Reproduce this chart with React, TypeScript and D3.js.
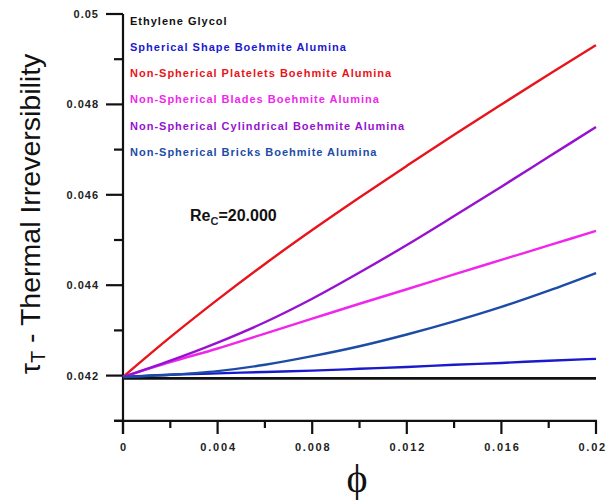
import React, { useEffect, useRef } from 'react';
import * as d3 from 'd3';

const phi = [0, 0.002, 0.004, 0.006, 0.008, 0.01, 0.012, 0.014, 0.016, 0.018, 0.02];

const ethyleneGlycol = [0.04194, 0.04194, 0.04194, 0.04194, 0.04194, 0.04194, 0.04194, 0.04194, 0.04194, 0.04194, 0.04194];
const spherical = [0.04197, 0.04202, 0.04205, 0.04208, 0.04211, 0.04215, 0.04219, 0.04224, 0.04228, 0.04233, 0.04237];
const platelets = [0.04197, 0.04285, 0.04368, 0.04447, 0.04522, 0.04594, 0.04664, 0.04733, 0.048, 0.04866, 0.04931];
const blades = [0.04197, 0.0423, 0.0426, 0.04293, 0.04326, 0.04359, 0.04391, 0.04424, 0.04456, 0.04488, 0.0452];
const cylindrical = [0.04197, 0.04233, 0.04273, 0.04318, 0.04370, 0.04428, 0.04489, 0.04553, 0.04618, 0.04684, 0.0475];
const bricks = [0.04197, 0.04202, 0.0421, 0.04224, 0.04243, 0.04265, 0.04291, 0.0432, 0.04352, 0.04388, 0.04427];

const seriesNames = [
  'Ethylene Glycol',
  'Spherical Shape Boehmite Alumina',
  'Non-Spherical Platelets Boehmite Alumina',
  'Non-Spherical Blades Boehmite Alumina',
  'Non-Spherical Cylindrical Boehmite Alumina',
  'Non-Spherical Bricks Boehmite Alumina',
];
const seriesValues = [ethyleneGlycol, spherical, platelets, blades, cylindrical, bricks];
const seriesColors = ['#111111', '#1a1acc', '#e8141c', '#f026ec', '#9612d0', '#1c4ca6'];

const yMajorTicks = [0.042, 0.044, 0.046, 0.048, 0.05];
const yMajorLabels = ['0.042', '0.044', '0.046', '0.048', '0.05'];
const yMinorTicks = [0.041, 0.043, 0.045, 0.047, 0.049];
const xMajorTicks = [0, 0.004, 0.008, 0.012, 0.016, 0.02];
const xMajorLabels = ['0', '0.004', '0.008', '0.012', '0.016', '0.02'];
const xMinorTicks = [0.002, 0.006, 0.01, 0.014, 0.018];

export default function App() {
  const svgRef = useRef<SVGSVGElement>(null);

  useEffect(() => {
    document.body.style.margin = '0';
    if (!svgRef.current) return;
    const svg = d3.select(svgRef.current);
    svg.selectAll('*').remove();

    const x = d3.scaleLinear().domain([0, 0.02]).range([123, 596]);
    const y = d3.scaleLinear().domain([0.041, 0.05]).range([420.8, 14]);
    const g = svg.append('g');
    const font = 'Liberation Sans, Arial, sans-serif';

    // axes
    g.append('line').attr('x1', 123).attr('x2', 123).attr('y1', y(0.05)).attr('y2', 434)
      .attr('stroke', '#111').attr('stroke-width', 2.2);
    g.append('line').attr('x1', 114).attr('x2', 597).attr('y1', y(0.041)).attr('y2', y(0.041))
      .attr('stroke', '#111').attr('stroke-width', 2.2);

    yMajorTicks.forEach((t, i) => {
      g.append('line').attr('x1', 106).attr('x2', 123).attr('y1', y(t)).attr('y2', y(t))
        .attr('stroke', '#111').attr('stroke-width', 2.2);
      g.append('text').attr('x', 99).attr('y', y(t) + 4).attr('text-anchor', 'end')
        .attr('font-family', font).attr('font-weight', 'bold').attr('font-size', 11)
        .attr('letter-spacing', 1).attr('fill', '#222').text(yMajorLabels[i]);
    });
    yMinorTicks.forEach(t => {
      g.append('line').attr('x1', 114).attr('x2', 123).attr('y1', y(t)).attr('y2', y(t))
        .attr('stroke', '#111').attr('stroke-width', 2.2);
    });
    xMajorTicks.forEach((t, i) => {
      g.append('line').attr('x1', x(t)).attr('x2', x(t)).attr('y1', y(0.041)).attr('y2', 434)
        .attr('stroke', '#111').attr('stroke-width', 2.2);
      const last = i === xMajorTicks.length - 1;
      g.append('text').attr('x', last ? 607 : x(t) + 1).attr('y', 451)
        .attr('text-anchor', last ? 'end' : 'middle')
        .attr('font-family', font).attr('font-weight', 'bold').attr('font-size', 11)
        .attr('letter-spacing', 1.8).attr('fill', '#222').text(xMajorLabels[i]);
    });
    xMinorTicks.forEach(t => {
      g.append('line').attr('x1', x(t)).attr('x2', x(t)).attr('y1', y(0.041)).attr('y2', 428)
        .attr('stroke', '#111').attr('stroke-width', 2.2);
    });

    // curves
    const line = d3.line<number>().x((_, i) => x(phi[i])).y(d => y(d)).curve(d3.curveMonotoneX);
    seriesValues.forEach((vals, i) => {
      g.append('path').datum(vals)
        .attr('fill', 'none')
        .attr('stroke', seriesColors[i])
        .attr('stroke-width', i === 0 ? 2.8 : 2.4)
        .attr('d', line);
    });

    // legend
    seriesNames.forEach((name, i) => {
      g.append('text').attr('x', 130).attr('y', 24.5 + i * 26.3)
        .attr('font-family', font).attr('font-weight', 'bold').attr('font-size', 11)
        .attr('letter-spacing', 1).attr('fill', seriesColors[i]).text(name);
    });

    // Re annotation
    const re = g.append('text').attr('x', 190).attr('y', 221)
      .attr('font-family', font).attr('font-weight', 'bold').attr('font-size', 16).attr('fill', '#111');
    re.append('tspan').text('Re');
    re.append('tspan').attr('font-size', 11).attr('dy', 4).attr('fill', '#223').text('C');
    re.append('tspan').attr('dy', -4).text('=20.000');

    // axis titles
    const yt = g.append('text')
      .attr('transform', 'translate(40,214) rotate(-90)')
      .attr('text-anchor', 'middle')
      .attr('font-family', font).attr('font-size', 28.5).attr('fill', '#111');
    yt.append('tspan').text('τ');
    yt.append('tspan').attr('font-size', 20).attr('dy', 5).text('T');
    yt.append('tspan').attr('dy', -5).text(' - Thermal Irreversibility');

    g.append('text').attr('x', 357).attr('y', 492).attr('text-anchor', 'middle')
      .attr('font-family', 'Liberation Serif, Times New Roman, serif').attr('font-size', 40)
      .attr('fill', '#111').text('ϕ');
  }, []);

  return (
    <div style={{ width: 608, height: 500, background: '#fff' }}>
      <svg ref={svgRef} width={608} height={500} style={{ display: 'block' }} />
    </div>
  );
}
